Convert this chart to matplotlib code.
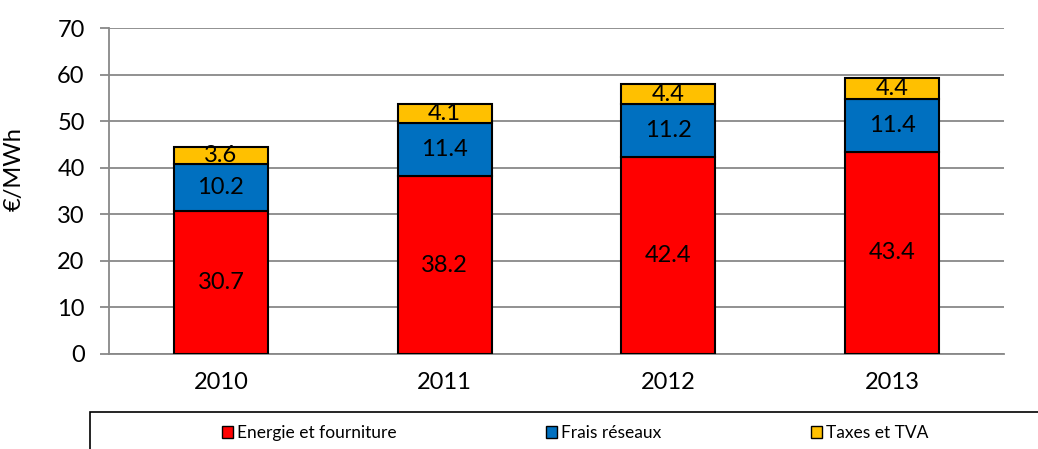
import numpy as np
import matplotlib.pyplot as plt
from matplotlib.patches import Rectangle, Patch

years = ['2010', '2011', '2012', '2013']
energie = [30.7, 38.2, 42.4, 43.4]
frais = [10.2, 11.4, 11.2, 11.4]
taxes = [3.6, 4.1, 4.4, 4.4]
series_names = ['Energie et fourniture', 'Frais réseaux', 'Taxes et TVA']
colors = ['#FF0000', '#0070C0', '#FFC000']

plt.rcParams['font.family'] = ['Lato', 'DejaVu Sans']

fig = plt.figure(figsize=(10.38, 4.49), dpi=100)
ax = fig.add_axes([109/1038, 1-354/449, (1004-109)/1038, (354-28)/449])

x = np.arange(len(years))
bottom = np.zeros(len(years))
for vals, col in zip([energie, frais, taxes], colors):
    bars = ax.bar(x, vals, 0.42, bottom=bottom, color=col, edgecolor='black', lw=1.5, zorder=3)
    ax.bar_label(bars, labels=['%.1f' % v for v in vals], label_type='center', fontsize=17, zorder=4)
    bottom += np.array(vals)

ax.set_xlim(-0.5, 3.5)
ax.set_ylim(0, 70)
ax.set_yticks(range(0, 71, 10))
ax.set_xticks(x)
ax.set_xticklabels(years)
ax.yaxis.grid(True, color='#888888', lw=1.3)
ax.set_axisbelow(True)
for s in ['top', 'right']:
    ax.spines[s].set_visible(False)
for s in ['left', 'bottom']:
    ax.spines[s].set_color('#888888')
    ax.spines[s].set_linewidth(1.3)
ax.tick_params(axis='y', length=6.5, color='#888888', width=1.3, labelsize=17, pad=11)
ax.tick_params(axis='x', length=0, labelsize=17, pad=13)
ax.set_ylabel('€/MWh', fontsize=17)
ax.yaxis.set_label_coords(-0.094, 0.567)

# legend box (cropped by figure edge)
fig.patches.append(Rectangle((90/1038, -0.1), 1.0, 0.1 + 1-412/449, transform=fig.transFigure,
                             fill=False, edgecolor='black', lw=1.2))
handles = [Patch(facecolor=c, edgecolor='black', lw=1) for c in colors]
fig.legend(handles, series_names, ncol=3, loc='center', bbox_to_anchor=(575/1038, 1-433/449),
           frameon=False, fontsize=12.5, handlelength=0.63, handleheight=0.63,
           handletextpad=0.25, columnspacing=8.6)

fig.savefig('out.png', dpi=100)
